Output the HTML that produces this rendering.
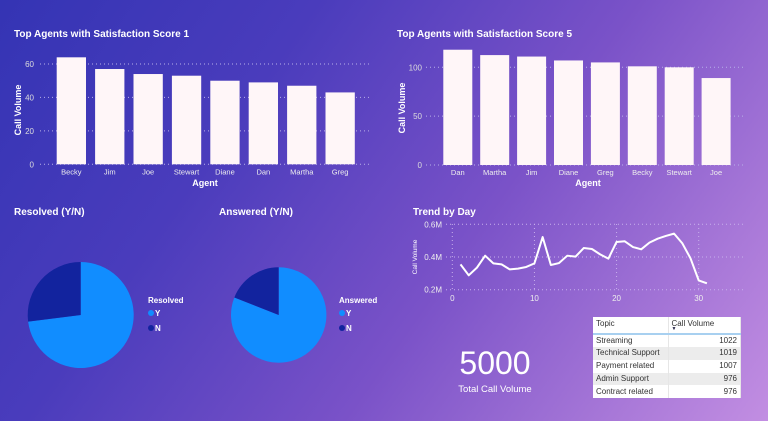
<!DOCTYPE html>
<html><head><meta charset="utf-8"><style>
html,body{margin:0;padding:0}
body{width:768px;height:421px;overflow:hidden;position:relative;font-family:"Liberation Sans",sans-serif;
background:linear-gradient(125deg,#3434b4 0%,#4a3cbc 30%,#7a52c8 60%,#a878d8 85%,#c28ee2 100%);}
svg{position:absolute;left:0;top:0}
.t{font-weight:bold;fill:#fff;font-size:10px}
table{position:absolute;left:593px;top:317px;width:148px;border-collapse:collapse;table-layout:fixed;font-size:8px;color:#333;background:#fff}
td{padding:0 3px;height:12.8px;line-height:12px;border:0;border-right:1px solid #e6e6e6;white-space:nowrap;overflow:hidden;box-sizing:border-box}
tr.h td{height:17px;vertical-align:top;border-bottom:2px solid #a8d0f0;position:relative;line-height:11px;padding-top:1px}
tr.a td{background:#ececec}
td.n{text-align:right}
.arr{position:absolute;left:3px;top:10px;font-size:5px;color:#224;line-height:5px}
</style></head><body>
<svg id="s" width="768" height="421"></svg>
<table>
<tr class="h"><td style="width:75px">Topic</td><td>Call Volume<span class="arr">▼</span></td></tr>
<tr><td>Streaming</td><td class="n">1022</td></tr>
<tr class="a"><td>Technical Support</td><td class="n">1019</td></tr>
<tr><td>Payment related</td><td class="n">1007</td></tr>
<tr class="a"><td>Admin Support</td><td class="n">976</td></tr>
<tr><td>Contract related</td><td class="n">976</td></tr>
</table>
<script>
const agents1=["Becky","Jim","Joe","Stewart","Diane","Dan","Martha","Greg"];
const vals1=[64,57,54,53,50,49,47,43];
const ticks1=[0,20,40,60];
const agents5=["Dan","Martha","Jim","Diane","Greg","Becky","Stewart","Joe"];
const vals5=[118,112.5,111,107,105,101,100,89];
const ticks5=[0,50,100];
const days=[1,2,3,4,5,6,7,8,9,10,11,12,13,14,15,16,17,18,19,20,21,22,23,24,25,26,27,28,29,30,31];
const trend=[0.355,0.288,0.335,0.408,0.361,0.355,0.324,0.329,0.339,0.361,0.522,0.351,0.363,0.408,0.402,0.455,0.449,0.416,0.39,0.492,0.496,0.461,0.447,0.488,0.512,0.529,0.543,0.484,0.392,0.257,0.239];
const trendTicks=[0.2,0.4,0.6];
const dayTicks=[0,10,20,30];
const resolved=[0.73,0.27];
const answered=[0.81,0.19];
const ns="http://www.w3.org/2000/svg";
const S=document.getElementById('s');
function mk(tag,attrs,parent){const e=document.createElementNS(ns,tag);for(const k in attrs)e.setAttribute(k,attrs[k]);(parent||S).appendChild(e);return e;}
function txt(x,y,s,attrs){const e=mk('text',Object.assign({x:x,y:y,fill:'#fff','font-size':8},attrs||{}));e.textContent=s;return e;}

function barChart(o){
  const y=v=>o.y0-(v/o.vmax)*(o.y0-o.ytop);
  o.ticks.forEach(t=>{
    const g=mk('line',{x1:o.gx0,x2:o.gx1,y1:y(t),y2:y(t),stroke:'#b8b0e8','stroke-dasharray':'1,3','stroke-width':1});
    
    
    const l=txt(o.tx,y(t)+3,String(t),{'text-anchor':'end',fill:'#ddd'});
    
    
  });
  o.cats.forEach((c,i)=>{
    const x=o.x0+i*o.step;
    const r=mk('rect',{x:x,y:y(o.vals[i]),width:o.bw,height:o.y0-y(o.vals[i]),fill:'#fff6f8'});
    
    
    const l=txt(x+o.bw/2,o.y0+10,c,{'text-anchor':'middle',fill:'#eee','font-size':7.5});
    
    
  });
}
barChart({cats:agents1,vals:vals1,ticks:ticks1,vmax:60,y0:164.3,ytop:64,x0:56.7,step:38.4,bw:29.3,gx0:40,gx1:372,tx:34});
barChart({cats:agents5,vals:vals5,ticks:ticks5,vmax:100,y0:165,ytop:67.3,x0:443.3,step:36.9,bw:29,gx0:426,gx1:744,tx:422});

let e;
e=txt(14,37,'Top Agents with Satisfaction Score 1',{class:'t'});
e=txt(397,37,'Top Agents with Satisfaction Score 5',{class:'t'});
e=txt(205,186,'Agent',{'text-anchor':'middle','font-weight':'bold','font-size':9});
e=txt(588,186,'Agent',{'text-anchor':'middle','font-weight':'bold','font-size':9});
e=txt(0,0,'Call Volume',{'text-anchor':'middle','font-weight':'bold','font-size':9,transform:'translate(21,110) rotate(-90)'});
e=txt(0,0,'Call Volume',{'text-anchor':'middle','font-weight':'bold','font-size':9,transform:'translate(405,108) rotate(-90)'});

function pie(cx,cy,r,fr,name){
  const cols=['#118dff','#12239e'];
  let a=0;
  fr.forEach((f,i)=>{
    const a0=a*2*Math.PI,a1=(a+f)*2*Math.PI;
    const x0=cx+r*Math.sin(a0),y0=cy-r*Math.cos(a0),x1=cx+r*Math.sin(a1),y1=cy-r*Math.cos(a1);
    const p=mk('path',{d:`M${cx},${cy}L${x0},${y0}A${r},${r} 0 ${f>0.5?1:0} 1 ${x1},${y1}Z`,fill:cols[i]});
    
    
    a+=f;
  });
}
pie(80.7,315,53,resolved,'resolved');
pie(278.7,315,47.7,answered,'answered');
e=txt(14,215,'Resolved (Y/N)',{class:'t'});
e=txt(219,215,'Answered (Y/N)',{class:'t'});
[[148,'Resolved'],[339,'Answered']].forEach(([x,n])=>{
  const t=txt(x,303,n,{'font-weight':'bold','font-size':8});
  [['Y','#118dff',316],['N','#12239e',331]].forEach(([k,c,yy])=>{
    const d=mk('circle',{cx:x+3,cy:yy-3,r:3,fill:c});
    const l=txt(x+7,yy,k,{'font-weight':'bold','font-size':8});
  });
});

const xs=d=>452.3+d*(698.7-452.3)/30;
const ys=v=>289.7-(v-0.2)/0.4*(289.7-224.3);
trendTicks.forEach(t=>{
  const g=mk('line',{x1:446,x2:746,y1:ys(t),y2:ys(t),stroke:'#c8b0ec','stroke-dasharray':'1,3'});
  const l=txt(442,ys(t)+3,t.toFixed(1)+'M',{'text-anchor':'end',fill:'#eee'});
});
dayTicks.forEach(d=>{
  const g=mk('line',{x1:xs(d),x2:xs(d),y1:224,y2:290,stroke:'#c8b0ec','stroke-dasharray':'1,3'});
  const l=txt(xs(d),301,String(d),{'text-anchor':'middle',fill:'#eee'});
});
const line=mk('polyline',{points:days.map((d,i)=>xs(d)+','+ys(trend[i])).join(' '),fill:'none',stroke:'#fff','stroke-width':2,'stroke-linejoin':'round'});


e=txt(413,215,'Trend by Day',{class:'t'});
e=txt(0,0,'Call Volume',{'text-anchor':'middle','font-size':6.5,transform:'translate(417,257) rotate(-90)'});

e=txt(495,374,'5000',{'text-anchor':'middle','font-size':32});
e=txt(495,392,'Total Call Volume',{'text-anchor':'middle','font-size':9.5});
</script>
</body></html>
